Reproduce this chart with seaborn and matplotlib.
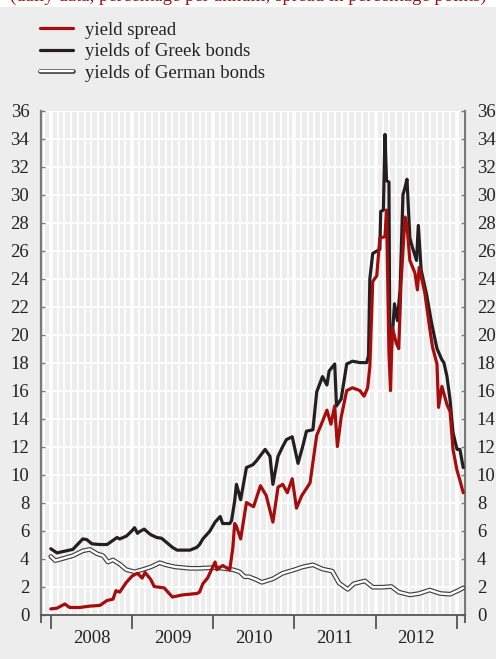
import matplotlib

matplotlib.use("Agg")
import matplotlib.dates as mdates
import matplotlib.patheffects as pe
import matplotlib.pyplot as plt
import pandas as pd
import seaborn as sns
from matplotlib.patches import Rectangle

# values (percent / percentage points)
greek_dates = [
    "2008-01-01", "2008-01-29", "2008-02-25", "2008-04-09", "2008-05-24", "2008-06-11",
    "2008-07-04", "2008-08-09", "2008-09-10", "2008-10-07", "2008-10-25", "2008-11-06",
    "2008-12-06", "2008-12-29", "2009-01-12", "2009-01-25", "2009-02-01", "2009-02-24",
    "2009-03-14", "2009-03-26", "2009-04-22", "2009-05-13", "2009-06-01", "2009-07-01",
    "2009-07-22", "2009-09-18", "2009-10-19", "2009-10-31", "2009-11-15", "2009-12-16",
    "2010-01-09", "2010-02-01", "2010-02-12", "2010-03-16", "2010-03-24", "2010-04-07",
    "2010-04-15", "2010-05-04", "2010-05-30", "2010-06-28", "2010-07-15", "2010-08-22",
    "2010-09-13", "2010-09-26", "2010-10-19", "2010-11-09", "2010-11-26", "2010-12-22",
    "2011-01-17", "2011-02-07", "2011-02-24", "2011-03-25", "2011-04-11", "2011-05-07",
    "2011-05-27", "2011-06-06", "2011-07-01", "2011-07-09", "2011-07-30", "2011-08-24",
    "2011-09-19", "2011-10-22", "2011-11-22", "2011-11-30", "2011-12-06", "2011-12-19",
    "2012-01-20", "2012-01-24", "2012-02-05", "2012-02-12", "2012-02-19", "2012-03-01",
    "2012-03-05", "2012-03-12", "2012-03-26", "2012-04-08", "2012-04-20", "2012-05-03",
    "2012-05-12", "2012-05-21", "2012-06-03", "2012-06-15", "2012-07-03", "2012-07-11",
    "2012-07-24", "2012-08-18", "2012-09-09", "2012-10-03", "2012-10-25", "2012-11-03",
    "2012-11-17", "2012-12-01", "2012-12-14", "2013-01-01", "2013-01-14", "2013-01-29",
]
greek_yield = [
    4.7, 4.4, 4.5, 4.65, 5.4, 5.35,
    5.05, 5.0, 5.0, 5.3, 5.5, 5.4,
    5.6, 5.95, 6.2, 5.8, 5.9, 6.1,
    5.85, 5.7, 5.5, 5.45, 5.2, 4.8,
    4.6, 4.6, 4.8, 5.0, 5.4, 5.95,
    6.6, 7.0, 6.5, 6.5, 6.7, 8.1,
    9.3, 8.2, 10.5, 10.7, 11.0, 11.8,
    11.3, 9.3, 11.3, 12.0, 12.5, 12.7,
    10.8, 12.0, 13.1, 13.2, 15.9, 17.0,
    16.4, 17.4, 17.9, 14.9, 15.4, 17.9,
    18.1, 18.0, 18.0, 18.5, 24.0, 25.8,
    26.1, 28.8, 28.9, 34.3, 31.0, 30.9,
    18.2, 19.0, 22.2, 21.0, 23.2, 30.0,
    30.5, 31.1, 26.9, 26.2, 25.3, 27.8,
    24.6, 22.8, 20.8, 19.0, 18.2, 18.0,
    17.0, 15.3, 13.0, 11.8, 11.8, 10.5,
]

spread_dates = [
    "2008-01-01", "2008-01-29", "2008-03-04", "2008-03-26", "2008-05-10", "2008-06-25",
    "2008-08-09", "2008-09-10", "2008-10-07", "2008-10-20", "2008-11-06", "2008-12-06",
    "2009-01-01", "2009-01-25", "2009-02-15", "2009-02-28", "2009-03-26", "2009-04-10",
    "2009-05-25", "2009-07-01", "2009-08-15", "2009-10-19", "2009-10-31", "2009-11-15",
    "2009-12-06", "2010-01-09", "2010-01-17", "2010-02-12", "2010-03-16", "2010-03-30",
    "2010-04-07", "2010-04-15", "2010-05-04", "2010-05-30", "2010-07-01", "2010-08-01",
    "2010-08-27", "2010-09-26", "2010-10-19", "2010-11-09", "2010-11-30", "2010-12-22",
    "2011-01-10", "2011-02-03", "2011-03-12", "2011-04-11", "2011-05-02", "2011-05-27",
    "2011-06-14", "2011-07-01", "2011-07-13", "2011-07-30", "2011-08-24", "2011-09-19",
    "2011-10-22", "2011-11-10", "2011-11-26", "2011-12-06", "2011-12-19", "2012-01-06",
    "2012-01-20", "2012-02-12", "2012-02-19", "2012-03-01", "2012-03-08", "2012-03-16",
    "2012-04-03", "2012-04-14", "2012-04-24", "2012-05-12", "2012-05-21", "2012-06-03",
    "2012-06-26", "2012-07-07", "2012-07-15", "2012-08-09", "2012-08-31", "2012-09-13",
    "2012-10-03", "2012-10-10", "2012-10-25", "2012-11-17", "2012-12-01", "2012-12-14",
    "2013-01-01", "2013-01-14", "2013-01-29",
]
yield_spread = [
    0.4, 0.45, 0.75, 0.5, 0.5, 0.6,
    0.65, 1.0, 1.1, 1.7, 1.6, 2.3,
    2.75, 2.95, 2.6, 3.0, 2.5, 2.0,
    1.9, 1.25, 1.4, 1.5, 1.6, 2.2,
    2.6, 3.75, 3.2, 3.5, 3.2, 4.8,
    6.5, 6.3, 5.4, 8.0, 7.7, 9.2,
    8.5, 6.6, 9.1, 9.3, 8.7, 9.7,
    7.6, 8.5, 9.4, 12.8, 13.6, 14.6,
    13.6, 14.9, 12.0, 14.1, 16.0, 16.2,
    16.0, 15.6, 16.2, 17.7, 23.8, 24.2,
    26.9, 27.0, 28.9, 18.7, 16.0, 20.5,
    19.4, 19.0, 23.6, 28.4, 27.8, 25.3,
    24.4, 23.2, 24.8, 23.0, 20.5, 19.1,
    17.9, 14.8, 16.3, 15.0, 14.5, 11.8,
    10.3, 9.6, 8.7,
]

german_dates = [
    "2008-01-01", "2008-01-21", "2008-02-25", "2008-04-09", "2008-05-24", "2008-06-25",
    "2008-07-26", "2008-08-23", "2008-09-14", "2008-10-07", "2008-11-06", "2008-12-06",
    "2009-01-12", "2009-02-15", "2009-03-26", "2009-05-05", "2009-06-01", "2009-07-13",
    "2009-09-18", "2009-10-31", "2009-12-28", "2010-02-12", "2010-03-30", "2010-04-29",
    "2010-05-22", "2010-06-10", "2010-07-12", "2010-08-07", "2010-09-26", "2010-11-09",
    "2011-01-01", "2011-02-07", "2011-03-25", "2011-05-07", "2011-06-20", "2011-07-20",
    "2011-08-29", "2011-09-25", "2011-11-14", "2011-12-19", "2012-01-31", "2012-03-12",
    "2012-04-14", "2012-06-03", "2012-07-15", "2012-08-31", "2012-10-18", "2012-12-01",
    "2013-01-05", "2013-01-29",
]
german_yield = [
    4.15, 3.85, 4.0, 4.2, 4.55, 4.65,
    4.35, 4.2, 3.75, 3.9, 3.6, 3.2,
    3.05, 3.2, 3.4, 3.7, 3.55, 3.4,
    3.3, 3.3, 3.35, 3.3, 3.2, 3.05,
    2.7, 2.7, 2.5, 2.3, 2.55, 2.95,
    3.2, 3.4, 3.55, 3.25, 3.1, 2.25,
    1.8, 2.2, 2.4, 1.95, 1.95, 2.0,
    1.6, 1.4, 1.5, 1.75, 1.5, 1.45,
    1.7, 1.9,
]

year_labels = ["2008", "2009", "2010", "2011", "2012"]
y_ticks = list(range(0, 37, 2))

BG = "#ededed"
RED = "#a50d0d"
BLACK = "#231f20"
GRAY = "#7a7a7a"
TEXT = "#222222"

sns.set_style("white", {"axes.facecolor": BG, "figure.facecolor": BG})
plt.rcParams["font.family"] = ["Liberation Serif", "DejaVu Serif"]
plt.rcParams["font.size"] = 13.5

greek = pd.DataFrame({"date": pd.to_datetime(greek_dates), "value": greek_yield})
spread = pd.DataFrame({"date": pd.to_datetime(spread_dates), "value": yield_spread})
german = pd.DataFrame({"date": pd.to_datetime(german_dates), "value": german_yield})

fig = plt.figure(figsize=(4.96, 6.59), dpi=100)
ax = fig.add_axes([41 / 496, 1 - 614.5 / 659, 424 / 496, 503.8 / 659])

sns.lineplot(data=spread, x="date", y="value", ax=ax, color=RED, lw=2.3,
             label="yield spread", zorder=4)
sns.lineplot(data=greek, x="date", y="value", ax=ax, color=BLACK, lw=2.3,
             label="yields of Greek bonds", zorder=3)
sns.lineplot(data=german, x="date", y="value", ax=ax, color="white", lw=1.7,
             label="yields of German bonds", zorder=3,
             path_effects=[pe.Stroke(linewidth=3.4, foreground="#404040"), pe.Normal()])

x0, x1 = pd.Timestamp("2007-11-18"), pd.Timestamp("2013-02-06")
ax.set_xlim(x0, x1)
ax.set_ylim(0, 36)
ax.set_xlabel("")
ax.set_ylabel("")

# axis ticks: year boundaries below, months as gridlines
ax.xaxis.set_major_locator(mdates.YearLocator())
ax.xaxis.set_minor_locator(mdates.MonthLocator())
ax.xaxis.set_major_formatter(plt.NullFormatter())
ax.tick_params(axis="x", which="major", direction="out", length=10, width=1.3,
               color="#555555", bottom=True)
ax.tick_params(axis="x", which="minor", length=0)
ax.set_yticks(y_ticks)
ax.tick_params(axis="y", direction="in", length=3, width=1, color=GRAY,
               left=True, right=True, labelleft=True, labelright=True,
               labelsize=13.5, labelcolor=TEXT, pad=8.5)

ax.grid(which="major", axis="x", color="white", lw=2.6)
ax.grid(which="minor", axis="x", color="white", lw=1.3)
ax.grid(which="major", axis="y", color="white", lw=1.6)
ax.set_axisbelow(True)

for side in ["left", "right"]:
    ax.spines[side].set_color(GRAY)
    ax.spines[side].set_linewidth(1.6)
ax.spines["bottom"].set_color("#555555")
ax.spines["bottom"].set_linewidth(1.3)
ax.spines["top"].set_visible(False)

# short brackets at the ends of the time axis
sec = ax.secondary_xaxis("bottom")
sec.set_xticks([mdates.date2num(x0), mdates.date2num(x1)])
sec.set_xticklabels([])
sec.tick_params(direction="out", length=6, width=1.3, color="#555555")
sec.spines["bottom"].set_visible(False)

for label in year_labels:
    mid = pd.Timestamp(f"{label}-07-02")
    ax.text(mid, -0.047, label, transform=ax.get_xaxis_transform(),
            ha="center", va="center", fontsize=13.5, color=TEXT)

handles, labels = ax.get_legend_handles_labels()
ax.get_legend().remove()
fig.legend(handles, labels, loc="upper left", bbox_to_anchor=(40 / 496, 1 - 21.5 / 659),
           frameon=False, fontsize=13.5, handlelength=1.75, handletextpad=0.65,
           labelspacing=0.2, borderpad=0, borderaxespad=0, labelcolor=TEXT)

# cropped subtitle at the very top
fig.patches.append(Rectangle((0, 1 - 7 / 659), 1, 7 / 659, transform=fig.transFigure,
                             facecolor="white", edgecolor="none", zorder=0))
fig.text(0.5, 1 - 0.5 / 659,
         "(daily data, percentage per annum; spread in percentage points)",
         ha="center", va="baseline", fontsize=13.5, color=RED)

fig.savefig("out.png", dpi=100, facecolor=BG)
